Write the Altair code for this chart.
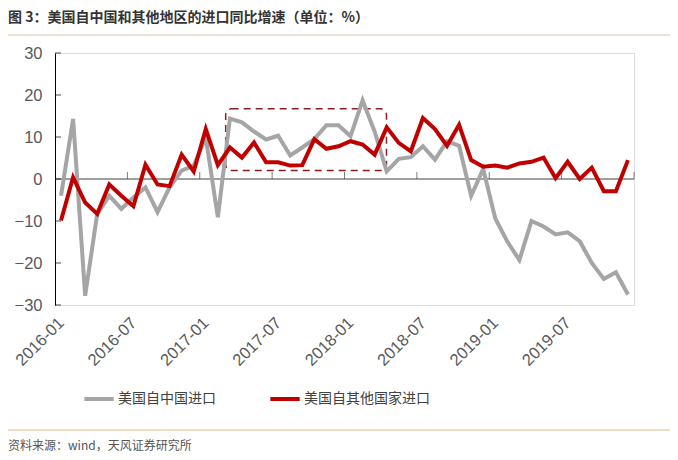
import altair as alt
import pandas as pd

TITLE = "图 3：美国自中国和其他地区的进口同比增速（单位：%）"
SOURCE = "资料来源：wind，天风证券研究所"
SERIES = ["美国自中国进口", "美国自其他国家进口"]
COLORS = ["#a5a5a5", "#c00000"]

# monthly, 2016-01 .. 2019-12
CHINA = [-4, 14.3, -27.8, -8.3, -4, -7.1, -4.4, -2, -7.9, -2, 2, 3.2,
         9.9, -9.1, 14.4, 13.5, 11.3, 9.4, 10.3, 5.6, 7.5, 9.5, 12.8, 12.8,
         10.2, 18.7, 11.3, 1.8, 4.8, 5.2, 7.8, 4.6, 9, 7.9, -4, 2.4,
         -9.4, -14.9, -19.3, -10, -11.3, -13.2, -12.7, -14.8, -20, -23.8, -22.2, -27.5]
OTHER = [-9.9, 0.4, -5.6, -8.3, -1.3, -4, -6.5, 3.4, -1.3, -1.7, 5.8, 1.8,
         11.9, 3.3, 7.5, 5.1, 8.7, 4, 4, 3.2, 3.3, 9.5, 7.2, 7.8,
         9, 8.2, 5.8, 12.3, 8.6, 6.6, 14.5, 11.9, 7.9, 12.9, 4.5, 2.9,
         3.2, 2.7, 3.7, 4.1, 5.1, 0.2, 4.1, 0, 2.7, -2.9, -2.9, 4.5]
TICK_LABELS = ["2016-01", "2016-07", "2017-01", "2017-07",
               "2018-01", "2018-07", "2019-01", "2019-07"]
TICK_BOUNDS = [6, 12, 18, 24, 30, 36, 42, 48]
Y_TICKS = [-30, -20, -10, 0, 10, 20, 30]
# highlighted box (month units, percent)
BOX = {"x": 14.15, "x2": 27.48, "y": 2.0, "y2": 16.7}

n = len(CHINA)
df = pd.DataFrame({
    "i": list(range(n)) * 2,
    "value": CHINA + OTHER,
    "series": [SERIES[0]] * n + [SERIES[1]] * n,
})

W, H = 579, 252
FONT = "Liberation Sans"
CJK = "Noto Sans CJK SC"

xscale = alt.Scale(domain=[0, 48], nice=False, zero=False)
yscale = alt.Scale(domain=[-30, 30], nice=False)

label_list = "[" + ",".join(f"'{t}'" for t in TICK_LABELS) + "]"

lines = alt.Chart(df).transform_calculate(xc="datum.i + 0.5").mark_line(
    strokeWidth=4
).encode(
    x=alt.X("xc:Q", scale=xscale, title=None,
            axis=alt.Axis(values=[0.5 + 6 * k for k in range(len(TICK_LABELS))],
                          labelExpr=f"{label_list}[floor(datum.value / 6)]",
                          domain=False, ticks=False, grid=False,
                          labelAngle=-45, labelAlign="right", labelBaseline="middle",
                          labelPadding=15, labelFontSize=16.5, labelFont=FONT,
                          labelColor="#595959")),
    y=alt.Y("value:Q", scale=yscale, title=None,
            axis=alt.Axis(values=Y_TICKS, domain=True, domainColor="#000000",
                          ticks=False, grid=False, labelPadding=13,
                          labelFontSize=16.5, labelFont=FONT, labelColor="#595959")),
    color=alt.Color("series:N", scale=alt.Scale(domain=SERIES, range=COLORS),
                    sort=SERIES,
                    legend=alt.Legend(title=None, orient="none", direction="horizontal",
                                      legendX=27, legendY=329, symbolType="stroke",
                                      symbolSize=860, symbolStrokeWidth=4,
                                      labelFontSize=14, labelFont=CJK,
                                      labelColor="#404040", labelOffset=2,
                                      columnPadding=46)),
    order=alt.Order("series:N", sort="descending"),
)

zero = alt.Chart(pd.DataFrame({"z": [0]})).mark_rule(color="#404040", strokeWidth=1).encode(
    y=alt.Y("z:Q", scale=yscale))

xticks = alt.Chart(pd.DataFrame({"b": TICK_BOUNDS})).mark_tick(
    orient="vertical", size=7, thickness=1, color="#404040", yOffset=-3.5
).encode(x=alt.X("b:Q", scale=xscale), y=alt.datum(0))

yticks = alt.Chart(pd.DataFrame({"v": Y_TICKS})).mark_tick(
    orient="horizontal", size=6, thickness=1, color="#000000"
).encode(y=alt.Y("v:Q", scale=yscale), x=alt.value(3))

box = alt.Chart(pd.DataFrame([BOX])).mark_rect(
    fillOpacity=0, stroke="#8b1f1f", strokeWidth=1.5, strokeDash=[7, 5], cornerRadius=6
).encode(x=alt.X("x:Q", scale=xscale), x2="x2:Q",
         y=alt.Y("y:Q", scale=yscale), y2="y2:Q")

title = alt.Chart(pd.DataFrame({"t": [TITLE]})).mark_text(
    align="left", baseline="middle", fontSize=14, fontWeight="bold", font=CJK, color="#333333"
).encode(text="t:N", x=alt.value(-47), y=alt.value(-35))

source = alt.Chart(pd.DataFrame({"t": [SOURCE]})).mark_text(
    align="left", baseline="middle", fontSize=12, font=CJK, color="#555555"
).encode(text="t:N", x=alt.value(-47), y=alt.value(393))

top_line = alt.Chart(pd.DataFrame({"k": [0]})).mark_rule(color="#dcc2a8", strokeWidth=1).encode(
    x=alt.value(-47), x2=alt.value(615), y=alt.value(-18))
bottom_line = alt.Chart(pd.DataFrame({"k": [0]})).mark_rule(color="#e2b98c", strokeWidth=1).encode(
    x=alt.value(-47), x2=alt.value(615), y=alt.value(377))

chart = alt.layer(zero, xticks, yticks, box, lines, title, source, top_line, bottom_line).properties(
    width=W, height=H,
    autosize=alt.AutoSizeParams(type="none"),
    padding={"left": 47, "top": 45, "right": 36, "bottom": 147},
).configure_view(stroke=None).configure(background="white")

chart.save("out.html", embed_options={"renderer": "svg", "actions": False})
